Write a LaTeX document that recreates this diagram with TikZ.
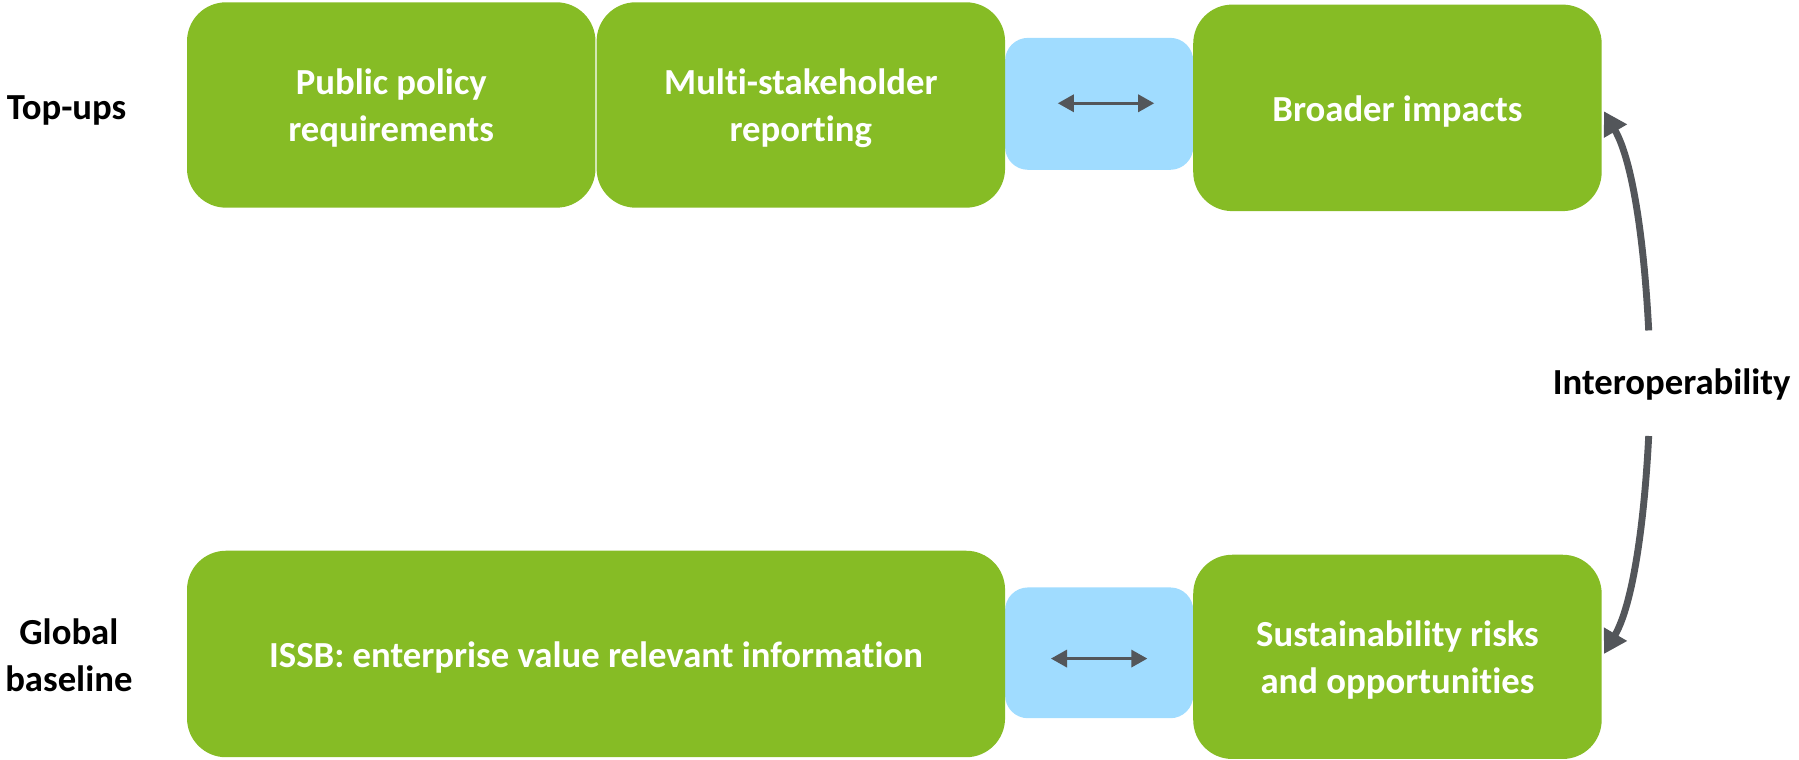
\documentclass[tikz,border=0pt]{standalone}
\usepackage{fontspec}
\setmainfont[Ligatures=NoCommon]{Carlito}
\usetikzlibrary{arrows.meta}
\definecolor{dgreen}{HTML}{86BC25}
\definecolor{lblue}{HTML}{A0DCFF}
\definecolor{dgray}{HTML}{53565A}
\begin{document}
\begin{tikzpicture}[x=1pt,y=-1pt,
  gbox/.style={fill=dgreen, rounded corners=34pt, inner sep=0pt},
  gtxt/.style={yshift=-3pt, inner sep=0pt, text=white, align=center,
     font=\fontsize{32}{41}\selectfont\bfseries},
  bbox/.style={fill=lblue, rounded corners=20pt, inner sep=0pt},
  lab/.style={align=center, text=black, font=\fontsize{32}{41}\selectfont\bfseries},
  dbl/.style={draw=dgray, line width=2.5pt, {Triangle[length=14pt,width=15pt]}-{Triangle[length=14pt,width=15pt]}},
  curv/.style={draw=dgray, line width=6pt, -{Triangle[length=20pt,width=22pt]}}]
\useasboundingbox (0,0) rectangle (1568,662.4);
% blue connectors behind
\node[bbox, minimum width=164pt, minimum height=115pt] (bt) at (958,90.5) {};
\node[bbox, minimum width=164pt, minimum height=114pt] (bb) at (958,569) {};
% green boxes
\node[gbox, minimum width=356pt, minimum height=179pt,
  label={[gtxt]center:{Public policy\\requirements}}] (pub) at (341,91.5) {};
\node[gbox, minimum width=356pt, minimum height=179pt,
  label={[gtxt]center:{Multi-stakeholder\\reporting}}] (multi) at (698,91.5) {};
\node[gbox, minimum width=356pt, minimum height=180pt,
  label={[gtxt]center:{Broader impacts}}] (broad) at (1218,94) {};
\node[gbox, minimum width=713pt, minimum height=180pt,
  label={[gtxt]center:{ISSB: enterprise value relevant information}}] (issb) at (519.5,570) {};
\node[gbox, minimum width=356pt, minimum height=178pt,
  label={[gtxt]center:{Sustainability risks\\and opportunities}}] (sust) at (1218,572.5) {};
% labels
\node[lab] (top) at (58,96) {Top-ups};
\node[lab] (glob) at (60,571) {Global\\baseline};
\node[lab] (inter) at (1457,335) {Interoperability};
% double arrows
\coordinate (ta) at (922,90);
\coordinate (tb) at (1006,90);
\coordinate (ba) at (916,574);
\coordinate (bb2) at (1000,574);
\draw[dbl] (ta) -- (tb);
\draw[dbl] (ba) -- (bb2);
% curved arrows
\coordinate (c1) at (1437,288);
\coordinate (c2) at (1437,380);
\coordinate (t1) at (1398,97);
\coordinate (t2) at (1398,570);
\draw[curv] (c1) .. controls (1433,210) and (1423,140) .. (t1);
\draw[curv] (c2) .. controls (1433,458) and (1423,527) .. (t2);
\end{tikzpicture}
\end{document}
